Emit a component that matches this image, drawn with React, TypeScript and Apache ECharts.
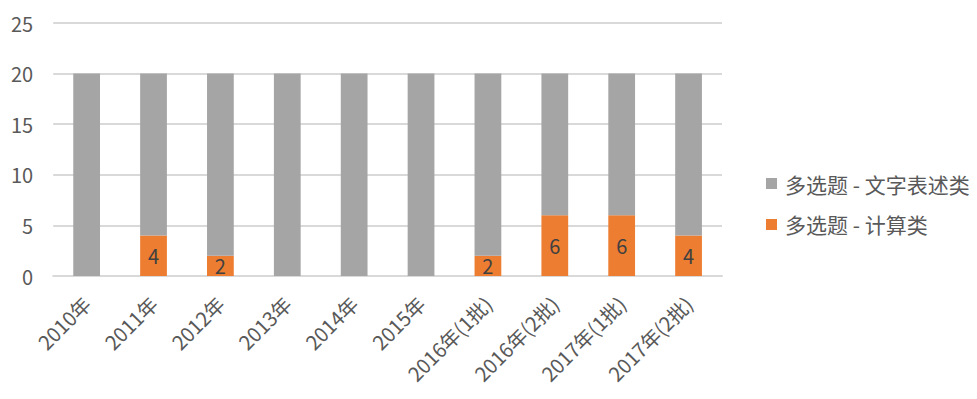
import React, { useEffect, useRef } from "react";
import * as echarts from "echarts";

const categories = ["2010年", "2011年", "2012年", "2013年", "2014年", "2015年", "2016年(1批)", "2016年(2批)", "2017年(1批)", "2017年(2批)"];
const calcValues = [0, 4, 2, 0, 0, 0, 2, 6, 6, 4];
const textValues = [20, 16, 18, 20, 20, 20, 18, 14, 14, 16];
const seriesNames = ["多选题 - 文字表述类", "多选题 - 计算类"];

const FONT = "'Noto Sans CJK SC', 'Noto Sans', sans-serif";

export default function App() {
  const ref = useRef<HTMLDivElement>(null);
  useEffect(() => {
    if (!ref.current) return;
    const chart = echarts.init(ref.current, undefined, { renderer: "svg" });
    chart.setOption({
      animation: false,
      textStyle: { fontFamily: FONT },
      grid: { left: 44, right: 247, top: 15, bottom: 115, containLabel: false },
      legend: {
        orient: "vertical",
        left: 753,
        top: 160,
        itemWidth: 11,
        itemHeight: 11,
        itemGap: 20,
        icon: "rect",
        data: [seriesNames[0], seriesNames[1]],
        textStyle: { fontSize: 21, color: "#595959", fontFamily: FONT, padding: [0, 0, 0, 3] },
      },
      xAxis: {
        type: "category",
        data: categories,
        axisTick: { show: false },
        axisLine: { lineStyle: { color: "#d9d9d9", width: 2 } },
        axisLabel: { rotate: 45, fontSize: 20, color: "#595959", interval: 0, margin: 24, fontFamily: FONT },
      },
      yAxis: {
        type: "value",
        min: 0,
        max: 25,
        interval: 5,
        axisLine: { show: false },
        axisTick: { show: false },
        splitLine: { lineStyle: { color: "#d9d9d9", width: 2 } },
        axisLabel: { fontSize: 20, color: "#595959", margin: 20, fontFamily: FONT },
      },
      series: [
        {
          name: seriesNames[1],
          type: "bar",
          stack: "total",
          barWidth: "40%",
          data: calcValues,
          itemStyle: { color: "#ed7d31" },
          label: {
            show: true,
            position: "inside",
            fontSize: 20,
            color: "#404040",
            fontFamily: FONT,
            formatter: (p: any) => (p.value ? String(p.value) : ""),
          },
        },
        {
          name: seriesNames[0],
          type: "bar",
          stack: "total",
          barWidth: "40%",
          data: textValues,
          itemStyle: { color: "#a5a5a5" },
        },
      ],
    });
    return () => chart.dispose();
  }, []);
  return <div ref={ref} style={{ width: 961, height: 383 }} />;
}
